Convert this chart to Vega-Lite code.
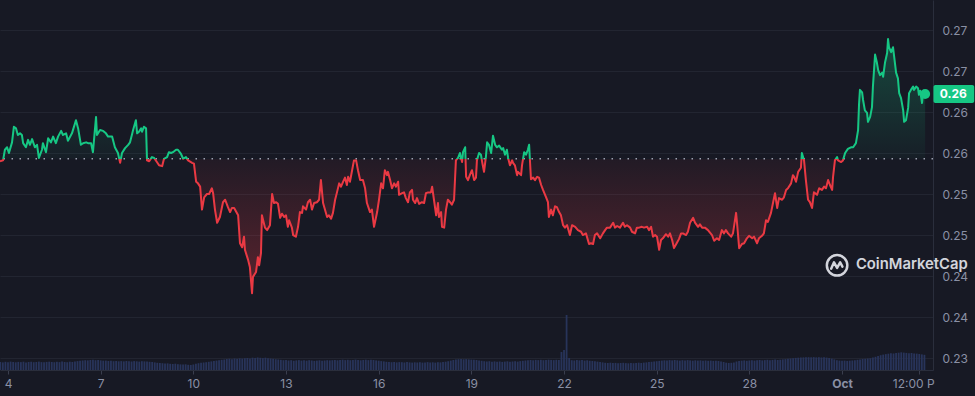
{
"$schema": "https://vega.github.io/schema/vega-lite/v6.json",
"width": 933, "height": 370,
"autosize": {"type": "none"},
"padding": {"left": 0, "top": 0, "right": 42, "bottom": 26},
"background": "#171924",
"config": {
  "view": {"stroke": null},
  "font": "Inter",
  "axis": {"domainColor": "#2a2e3c", "gridColor": "#222531", "tickColor": "#3a3e4e", "labelColor": "#8a90a4", "labelFont": "Inter", "labelFontSize": 12}
},
"datasets": {
"price": [
{"d":-0.26,"p":0.2540},{"d":-0.16,"p":0.2541},{"d":-0.10,"p":0.2554},{"d":-0.03,"p":0.2557},{"d":0.03,"p":0.2550},{"d":0.13,"p":0.2563},{"d":0.19,"p":0.2582},{"d":0.26,"p":0.2580},{"d":0.32,"p":0.2572},{"d":0.39,"p":0.2574},{"d":0.45,"p":0.2572},{"d":0.49,"p":0.2562},{"d":0.58,"p":0.2557},{"d":0.65,"p":0.2566},{"d":0.71,"p":0.2560},{"d":0.78,"p":0.2567},{"d":0.87,"p":0.2557},{"d":0.94,"p":0.2560},{"d":1.00,"p":0.2544},{"d":1.10,"p":0.2554},{"d":1.13,"p":0.2562},{"d":1.23,"p":0.2551},{"d":1.30,"p":0.2568},{"d":1.39,"p":0.2563},{"d":1.46,"p":0.2570},{"d":1.55,"p":0.2562},{"d":1.62,"p":0.2570},{"d":1.72,"p":0.2577},{"d":1.78,"p":0.2572},{"d":1.88,"p":0.2574},{"d":1.94,"p":0.2565},{"d":2.07,"p":0.2574},{"d":2.20,"p":0.2590},{"d":2.27,"p":0.2580},{"d":2.36,"p":0.2560},{"d":2.43,"p":0.2562},{"d":2.53,"p":0.2563},{"d":2.59,"p":0.2562},{"d":2.69,"p":0.2562},{"d":2.75,"p":0.2551},{"d":2.85,"p":0.2594},{"d":2.88,"p":0.2572},{"d":2.98,"p":0.2578},{"d":3.08,"p":0.2577},{"d":3.17,"p":0.2574},{"d":3.24,"p":0.2570},{"d":3.37,"p":0.2570},{"d":3.46,"p":0.2557},{"d":3.56,"p":0.2550},{"d":3.63,"p":0.2538},{"d":3.69,"p":0.2550},{"d":3.79,"p":0.2556},{"d":3.89,"p":0.2560},{"d":3.95,"p":0.2563},{"d":4.01,"p":0.2572},{"d":4.05,"p":0.2578},{"d":4.14,"p":0.2590},{"d":4.18,"p":0.2574},{"d":4.24,"p":0.2576},{"d":4.31,"p":0.2580},{"d":4.34,"p":0.2576},{"d":4.40,"p":0.2582},{"d":4.47,"p":0.2580},{"d":4.50,"p":0.2541},{"d":4.57,"p":0.2540},{"d":4.66,"p":0.2545},{"d":4.73,"p":0.2544},{"d":4.82,"p":0.2539},{"d":4.89,"p":0.2535},{"d":4.99,"p":0.2534},{"d":5.05,"p":0.2543},{"d":5.15,"p":0.2545},{"d":5.21,"p":0.2551},{"d":5.28,"p":0.2550},{"d":5.34,"p":0.2551},{"d":5.44,"p":0.2554},{"d":5.50,"p":0.2554},{"d":5.60,"p":0.2549},{"d":5.67,"p":0.2543},{"d":5.76,"p":0.2545},{"d":5.83,"p":0.2541},{"d":5.96,"p":0.2538},{"d":6.02,"p":0.2537},{"d":6.09,"p":0.2515},{"d":6.15,"p":0.2513},{"d":6.22,"p":0.2509},{"d":6.28,"p":0.2481},{"d":6.35,"p":0.2496},{"d":6.44,"p":0.2500},{"d":6.51,"p":0.2500},{"d":6.60,"p":0.2507},{"d":6.64,"p":0.2501},{"d":6.70,"p":0.2481},{"d":6.77,"p":0.2465},{"d":6.86,"p":0.2472},{"d":6.96,"p":0.2490},{"d":7.03,"p":0.2493},{"d":7.12,"p":0.2484},{"d":7.19,"p":0.2478},{"d":7.25,"p":0.2483},{"d":7.32,"p":0.2483},
{"d":7.45,"p":0.2474},{"d":7.51,"p":0.2440},{"d":7.58,"p":0.2435},{"d":7.64,"p":0.2448},{"d":7.67,"p":0.2432},{"d":7.77,"p":0.2420},{"d":7.83,"p":0.2411},{"d":7.90,"p":0.2379},{"d":7.93,"p":0.2399},{"d":8.03,"p":0.2405},{"d":8.09,"p":0.2423},{"d":8.13,"p":0.2413},{"d":8.19,"p":0.2428},{"d":8.22,"p":0.2474},{"d":8.26,"p":0.2468},{"d":8.32,"p":0.2459},{"d":8.39,"p":0.2456},{"d":8.48,"p":0.2462},{"d":8.55,"p":0.2500},{"d":8.61,"p":0.2489},{"d":8.68,"p":0.2490},{"d":8.74,"p":0.2488},{"d":8.81,"p":0.2471},{"d":8.87,"p":0.2476},{"d":8.94,"p":0.2472},{"d":9.00,"p":0.2474},{"d":9.06,"p":0.2460},{"d":9.10,"p":0.2468},{"d":9.19,"p":0.2459},{"d":9.23,"p":0.2450},{"d":9.32,"p":0.2448},{"d":9.39,"p":0.2460},{"d":9.45,"p":0.2478},{"d":9.52,"p":0.2477},{"d":9.55,"p":0.2485},{"d":9.65,"p":0.2481},{"d":9.71,"p":0.2490},{"d":9.78,"p":0.2493},{"d":9.84,"p":0.2481},{"d":9.91,"p":0.2489},{"d":10.00,"p":0.2490},{"d":10.07,"p":0.2493},{"d":10.13,"p":0.2517},{"d":10.20,"p":0.2489},{"d":10.23,"p":0.2485},{"d":10.33,"p":0.2472},{"d":10.39,"p":0.2474},{"d":10.46,"p":0.2470},{"d":10.52,"p":0.2477},{"d":10.59,"p":0.2493},{"d":10.65,"p":0.2502},{"d":10.72,"p":0.2513},{"d":10.78,"p":0.2509},{"d":10.85,"p":0.2515},{"d":10.91,"p":0.2520},{"d":10.97,"p":0.2511},{"d":11.01,"p":0.2521},{"d":11.07,"p":0.2515},{"d":11.14,"p":0.2529},{"d":11.20,"p":0.2541},{"d":11.27,"p":0.2541},{"d":11.33,"p":0.2529},{"d":11.40,"p":0.2517},{"d":11.49,"p":0.2517},{"d":11.56,"p":0.2507},{"d":11.62,"p":0.2489},{"d":11.72,"p":0.2478},{"d":11.78,"p":0.2481},{"d":11.85,"p":0.2460},{"d":11.95,"p":0.2478},{"d":12.01,"p":0.2493},{"d":12.08,"p":0.2513},{"d":12.14,"p":0.2507},{"d":12.20,"p":0.2529},{"d":12.27,"p":0.2523},{"d":12.30,"p":0.2527},{"d":12.37,"p":0.2517},{"d":12.43,"p":0.2507},{"d":12.50,"p":0.2513},{"d":12.56,"p":0.2509},{"d":12.63,"p":0.2515},{"d":12.66,"p":0.2499},{"d":12.76,"p":0.2501},{"d":12.82,"p":0.2502},{"d":12.88,"p":0.2495},{"d":12.95,"p":0.2490},{"d":13.01,"p":0.2502},{"d":13.08,"p":0.2505},{"d":13.11,"p":0.2493},{"d":13.18,"p":0.2489},{"d":13.24,"p":0.2495},{"d":13.31,"p":0.2488},{"d":13.40,"p":0.2490},{"d":13.47,"p":0.2489},{"d":13.53,"p":0.2501},{"d":13.60,"p":0.2502},{"d":13.69,"p":0.2502},{"d":13.73,"p":0.2509},{"d":13.79,"p":0.2493},{"d":13.86,"p":0.2474},{"d":13.92,"p":0.2489},{"d":13.95,"p":0.2472},{"d":14.02,"p":0.2478},{"d":14.05,"p":0.2460},{"d":14.12,"p":0.2459},{"d":14.18,"p":0.2481},{"d":14.24,"p":0.2493},{"d":14.31,"p":0.2490},{"d":14.37,"p":0.2487},{"d":14.44,"p":0.2493},{"d":14.50,"p":0.2541},{"d":14.57,"p":0.2544},{"d":14.63,"p":0.2550},{"d":14.70,"p":0.2539},{"d":14.73,"p":0.2551},{"d":14.80,"p":0.2557},{"d":14.83,"p":0.2521},{"d":14.89,"p":0.2517},{"d":14.96,"p":0.2524},{"d":15.02,"p":0.2529},{"d":15.09,"p":0.2517},{"d":15.15,"p":0.2520},{"d":15.18,"p":0.2541},{"d":15.25,"p":0.2550},{"d":15.31,"p":0.2548},{"d":15.35,"p":0.2539},{"d":15.41,"p":0.2527},{"d":15.47,"p":0.2545},{"d":15.51,"p":0.2563},{"d":15.57,"p":0.2560},{"d":15.64,"p":0.2550},{"d":15.70,"p":0.2571},{"d":15.77,"p":0.2560},{"d":15.83,"p":0.2557},{"d":15.90,"p":0.2559},{"d":15.99,"p":0.2554},{"d":16.03,"p":0.2556},{"d":16.09,"p":0.2548},{"d":16.15,"p":0.2554},{"d":16.19,"p":0.2544},{"d":16.25,"p":0.2535},{"d":16.32,"p":0.2541},{"d":16.35,"p":0.2538},{"d":16.41,"p":0.2535},{"d":16.48,"p":0.2523},{"d":16.51,"p":0.2527},{"d":16.61,"p":0.2523},{"d":16.64,"p":0.2535},{"d":16.71,"p":0.2551},{"d":16.77,"p":0.2548},{"d":16.83,"p":0.2554},{"d":16.87,"p":0.2560},{"d":16.93,"p":0.2518},{"d":17.00,"p":0.2520},{"d":17.06,"p":0.2517},{"d":17.13,"p":0.2521},{"d":17.19,"p":0.2520},{"d":17.26,"p":0.2511},{"d":17.32,"p":0.2505},{"d":17.42,"p":0.2496},{"d":17.48,"p":0.2490},{"d":17.51,"p":0.2472},{"d":17.58,"p":0.2481},{"d":17.64,"p":0.2474},{"d":17.71,"p":0.2485},{"d":17.77,"p":0.2484},{"d":17.84,"p":0.2478},{"d":17.90,"p":0.2474},{"d":17.97,"p":0.2462},{"d":18.03,"p":0.2459},{"d":18.10,"p":0.2462},{"d":18.19,"p":0.2450},{"d":18.26,"p":0.2462},{"d":18.36,"p":0.2460},{"d":18.45,"p":0.2456},{"d":18.55,"p":0.2454},{"d":18.61,"p":0.2450},{"d":18.71,"p":0.2452},{"d":18.81,"p":0.2439},{"d":18.87,"p":0.2440},{"d":18.94,"p":0.2439},{"d":19.00,"p":0.2450},{"d":19.07,"p":0.2452},{"d":19.17,"p":0.2446},{"d":19.26,"p":0.2452},{"d":19.33,"p":0.2456},{"d":19.39,"p":0.2459},{"d":19.49,"p":0.2459},{"d":19.59,"p":0.2465},{"d":19.65,"p":0.2459},{"d":19.72,"p":0.2461},{"d":19.81,"p":0.2459},{"d":19.91,"p":0.2465},{"d":19.97,"p":0.2460},{"d":20.04,"p":0.2462},{"d":20.14,"p":0.2459},{"d":20.20,"p":0.2454},{"d":20.30,"p":0.2452},{"d":20.36,"p":0.2459},{"d":20.43,"p":0.2459},{"d":20.52,"p":0.2460},{"d":20.59,"p":0.2459},{"d":20.69,"p":0.2460},{"d":20.75,"p":0.2456},{"d":20.82,"p":0.2460},{"d":20.88,"p":0.2448},{"d":20.95,"p":0.2450},{"d":21.01,"p":0.2448},{"d":21.08,"p":0.2432},{"d":21.14,"p":0.2444},{"d":21.20,"p":0.2446},{"d":21.30,"p":0.2451},{"d":21.37,"p":0.2448},{"d":21.43,"p":0.2452},{"d":21.50,"p":0.2444},{"d":21.56,"p":0.2434},{"d":21.66,"p":0.2441},{"d":21.72,"p":0.2445},{"d":21.79,"p":0.2452},{"d":21.85,"p":0.2452},{"d":21.95,"p":0.2450},{"d":22.01,"p":0.2454},{"d":22.08,"p":0.2465},{"d":22.18,"p":0.2471},{"d":22.24,"p":0.2465},{"d":22.34,"p":0.2460},{"d":22.40,"p":0.2463},{"d":22.47,"p":0.2459},{"d":22.56,"p":0.2459},
{"d":22.66,"p":0.2456},{"d":22.79,"p":0.2450},{"d":22.86,"p":0.2443},{"d":22.95,"p":0.2446},{"d":23.02,"p":0.2444},{"d":23.11,"p":0.2456},{"d":23.18,"p":0.2452},{"d":23.24,"p":0.2456},{"d":23.31,"p":0.2452},{"d":23.41,"p":0.2448},{"d":23.47,"p":0.2452},{"d":23.57,"p":0.2477},{"d":23.60,"p":0.2465},{"d":23.67,"p":0.2434},{"d":23.76,"p":0.2439},{"d":23.83,"p":0.2440},{"d":23.92,"p":0.2446},{"d":23.99,"p":0.2449},{"d":24.09,"p":0.2446},{"d":24.15,"p":0.2448},{"d":24.25,"p":0.2440},{"d":24.31,"p":0.2446},{"d":24.41,"p":0.2449},{"d":24.47,"p":0.2452},{"d":24.54,"p":0.2468},{"d":24.60,"p":0.2466},{"d":24.70,"p":0.2477},{"d":24.77,"p":0.2490},{"d":24.83,"p":0.2501},{"d":24.90,"p":0.2483},{"d":24.96,"p":0.2495},{"d":25.06,"p":0.2493},{"d":25.12,"p":0.2496},{"d":25.19,"p":0.2505},{"d":25.25,"p":0.2507},{"d":25.35,"p":0.2513},{"d":25.41,"p":0.2523},{"d":25.45,"p":0.2521},{"d":25.51,"p":0.2515},{"d":25.58,"p":0.2527},{"d":25.67,"p":0.2532},{"d":25.70,"p":0.2550},{"d":25.77,"p":0.2541},{"d":25.83,"p":0.2517},{"d":25.90,"p":0.2493},{"d":25.96,"p":0.2490},{"d":26.03,"p":0.2483},{"d":26.09,"p":0.2502},{"d":26.19,"p":0.2499},{"d":26.26,"p":0.2507},{"d":26.35,"p":0.2505},{"d":26.42,"p":0.2509},{"d":26.48,"p":0.2507},{"d":26.55,"p":0.2517},{"d":26.61,"p":0.2511},{"d":26.68,"p":0.2505},{"d":26.71,"p":0.2521},{"d":26.77,"p":0.2541},{"d":26.84,"p":0.2545},{"d":26.87,"p":0.2541},{"d":26.97,"p":0.2539},{"d":27.03,"p":0.2541},{"d":27.10,"p":0.2550},{"d":27.19,"p":0.2555},{"d":27.29,"p":0.2557},{"d":27.36,"p":0.2557},{"d":27.45,"p":0.2562},{"d":27.52,"p":0.2578},{"d":27.55,"p":0.2609},{"d":27.58,"p":0.2627},{"d":27.65,"p":0.2624},{"d":27.68,"p":0.2615},{"d":27.74,"p":0.2602},{"d":27.81,"p":0.2599},{"d":27.84,"p":0.2588},{"d":27.91,"p":0.2594},{"d":27.97,"p":0.2606},{"d":28.00,"p":0.2631},{"d":28.07,"p":0.2670},{"d":28.13,"p":0.2660},{"d":28.17,"p":0.2651},{"d":28.23,"p":0.2645},{"d":28.30,"p":0.2648},{"d":28.33,"p":0.2643},{"d":28.39,"p":0.2660},{"d":28.46,"p":0.2672},{"d":28.49,"p":0.2689},{"d":28.52,"p":0.2679},{"d":28.59,"p":0.2673},{"d":28.65,"p":0.2679},{"d":28.68,"p":0.2670},{"d":28.75,"p":0.2648},{"d":28.81,"p":0.2641},{"d":28.85,"p":0.2623},{"d":28.91,"p":0.2617},{"d":28.98,"p":0.2602},{"d":29.01,"p":0.2588},{"d":29.07,"p":0.2590},{"d":29.14,"p":0.2605},{"d":29.17,"p":0.2623},{"d":29.23,"p":0.2627},{"d":29.30,"p":0.2631},{"d":29.33,"p":0.2627},{"d":29.40,"p":0.2631},{"d":29.46,"p":0.2629},{"d":29.49,"p":0.2621},{"d":29.53,"p":0.2626},{"d":29.59,"p":0.2611},{"d":29.62,"p":0.2622},{"d":29.69,"p":0.2622}
],
"vol": [
{"d":-0.25,"v":8},{"d":-0.167,"v":7.6},{"d":-0.083,"v":8.2},
{"d":0,"v":7.8},{"d":0.083,"v":8.4},{"d":0.167,"v":8},{"d":0.25,"v":7.7},{"d":0.333,"v":8.1},{"d":0.417,"v":7.9},{"d":0.5,"v":8.3},{"d":0.583,"v":7.6},{"d":0.667,"v":8},{"d":0.75,"v":8.2},{"d":0.833,"v":7.8},{"d":0.917,"v":8},
{"d":1,"v":8.4},{"d":1.083,"v":7.9},{"d":1.167,"v":7.7},{"d":1.25,"v":8.1},{"d":1.333,"v":8.3},{"d":1.417,"v":8},{"d":1.5,"v":7.8},{"d":1.583,"v":8.2},{"d":1.667,"v":7.9},{"d":1.75,"v":8.5},{"d":1.833,"v":8.1},{"d":1.917,"v":7.8},
{"d":2,"v":8.3},{"d":2.083,"v":8},{"d":2.167,"v":8.6},{"d":2.25,"v":8.9},{"d":2.333,"v":9.2},{"d":2.417,"v":9.5},{"d":2.5,"v":9.8},{"d":2.583,"v":9.6},{"d":2.667,"v":10},{"d":2.75,"v":10.2},{"d":2.833,"v":9.8},{"d":2.917,"v":10},
{"d":3,"v":9.6},{"d":3.083,"v":9.3},{"d":3.167,"v":9.4},{"d":3.25,"v":9},{"d":3.333,"v":9.2},{"d":3.417,"v":8.8},{"d":3.5,"v":9},{"d":3.583,"v":8.7},{"d":3.667,"v":8.9},{"d":3.75,"v":8.6},{"d":3.833,"v":9},{"d":3.917,"v":8.8},
{"d":4,"v":8.5},{"d":4.083,"v":8.9},{"d":4.167,"v":8.7},{"d":4.25,"v":8.4},{"d":4.333,"v":8.8},{"d":4.417,"v":8.6},{"d":4.5,"v":8.5},{"d":4.583,"v":8.2},{"d":4.667,"v":8},{"d":4.75,"v":7.6},{"d":4.833,"v":7.2},{"d":4.917,"v":7},
{"d":5,"v":6.8},{"d":5.083,"v":6.5},{"d":5.167,"v":6.6},{"d":5.25,"v":6.2},{"d":5.333,"v":6},{"d":5.417,"v":6.3},{"d":5.5,"v":5.8},{"d":5.583,"v":5.6},{"d":5.667,"v":5.4},{"d":5.75,"v":5.7},{"d":5.833,"v":5.2},{"d":5.917,"v":5},
{"d":6,"v":5.5},{"d":6.083,"v":6.2},{"d":6.167,"v":6.8},{"d":6.25,"v":7.3},{"d":6.333,"v":7.5},{"d":6.417,"v":7.8},{"d":6.5,"v":8.2},{"d":6.583,"v":8.6},{"d":6.667,"v":9},{"d":6.75,"v":9.4},{"d":6.833,"v":9.8},{"d":6.917,"v":10.2},
{"d":7,"v":10.5},{"d":7.083,"v":11},{"d":7.167,"v":11.3},{"d":7.25,"v":10.8},{"d":7.333,"v":11.5},{"d":7.417,"v":11.2},{"d":7.5,"v":11.7},{"d":7.583,"v":11.4},{"d":7.667,"v":11.8},{"d":7.75,"v":12},{"d":7.833,"v":11.6},{"d":7.917,"v":12.3},
{"d":8,"v":12.1},{"d":8.083,"v":12.5},{"d":8.167,"v":12.2},{"d":8.25,"v":11.9},{"d":8.333,"v":12.3},{"d":8.417,"v":11.8},{"d":8.5,"v":11.5},{"d":8.583,"v":11.2},{"d":8.667,"v":10.8},{"d":8.75,"v":10.5},{"d":8.833,"v":10.2},{"d":8.917,"v":9.8},
{"d":9,"v":10},{"d":9.083,"v":9.5},{"d":9.167,"v":9.8},{"d":9.25,"v":9.2},{"d":9.333,"v":9.6},{"d":9.417,"v":9.9},{"d":9.5,"v":9.4},{"d":9.583,"v":9.7},{"d":9.667,"v":9.3},{"d":9.75,"v":9.8},{"d":9.833,"v":9.5},{"d":9.917,"v":9.1},
{"d":10,"v":9.4},{"d":10.083,"v":9.7},{"d":10.167,"v":9.2},{"d":10.25,"v":9.5},{"d":10.333,"v":9.8},{"d":10.417,"v":9.6},{"d":10.5,"v":9.8},{"d":10.583,"v":10.1},{"d":10.667,"v":9.7},{"d":10.75,"v":10},{"d":10.833,"v":10.3},{"d":10.917,"v":9.9},
{"d":11,"v":10.2},{"d":11.083,"v":9.8},{"d":11.167,"v":10},{"d":11.25,"v":10.4},{"d":11.333,"v":10.1},{"d":11.417,"v":9.7},{"d":11.5,"v":10},{"d":11.583,"v":10.3},{"d":11.667,"v":9.9},{"d":11.75,"v":10.2},{"d":11.833,"v":10},{"d":11.917,"v":9.6},
{"d":12,"v":9.3},{"d":12.083,"v":8.9},{"d":12.167,"v":8.6},{"d":12.25,"v":8.2},{"d":12.333,"v":8},{"d":12.417,"v":7.8},{"d":12.5,"v":8},{"d":12.583,"v":7.6},{"d":12.667,"v":7.9},{"d":12.75,"v":7.8},{"d":12.833,"v":7.5},{"d":12.917,"v":7.9},
{"d":13,"v":7.6},{"d":13.083,"v":7.4},{"d":13.167,"v":7.7},{"d":13.25,"v":7.5},{"d":13.333,"v":7.8},{"d":13.417,"v":7.4},{"d":13.5,"v":7.6},{"d":13.583,"v":7.9},{"d":13.667,"v":7.5},{"d":13.75,"v":7.7},{"d":13.833,"v":7.4},{"d":13.917,"v":7.8},
{"d":14,"v":7.6},{"d":14.083,"v":8},{"d":14.167,"v":8.3},{"d":14.25,"v":8.8},{"d":14.333,"v":9.4},{"d":14.417,"v":10},{"d":14.5,"v":10.5},{"d":14.583,"v":10.8},{"d":14.667,"v":11},{"d":14.75,"v":10.7},{"d":14.833,"v":10.9},{"d":14.917,"v":10.6},
{"d":15,"v":10.4},{"d":15.083,"v":10.2},{"d":15.167,"v":10},{"d":15.25,"v":9.6},{"d":15.333,"v":9.2},{"d":15.417,"v":8.8},{"d":15.5,"v":8.5},{"d":15.583,"v":8.8},{"d":15.667,"v":8.3},{"d":15.75,"v":8.6},{"d":15.833,"v":8.2},{"d":15.917,"v":8.5},
{"d":16,"v":8.1},{"d":16.083,"v":8.4},{"d":16.167,"v":8.7},{"d":16.25,"v":8.2},{"d":16.333,"v":8.5},{"d":16.417,"v":8.8},{"d":16.5,"v":8.4},{"d":16.583,"v":8.9},{"d":16.667,"v":9.2},{"d":16.75,"v":9.5},{"d":16.833,"v":9.8},{"d":16.917,"v":10},
{"d":17,"v":9.7},{"d":17.083,"v":10.1},{"d":17.167,"v":9.9},{"d":17.25,"v":10.2},{"d":17.333,"v":9.8},{"d":17.417,"v":10},{"d":17.5,"v":10.3},{"d":17.583,"v":10.1},{"d":17.667,"v":9.9},{"d":17.75,"v":10.2},{"d":17.833,"v":10},{"d":17.917,"v":18},
{"d":18,"v":20},{"d":18.083,"v":55},{"d":18.167,"v":12},{"d":18.25,"v":9.8},{"d":18.333,"v":9.5},{"d":18.417,"v":10},{"d":18.5,"v":9.6},{"d":18.583,"v":9.9},{"d":18.667,"v":9.4},{"d":18.75,"v":9.7},{"d":18.833,"v":9.2},{"d":18.917,"v":9},
{"d":19,"v":8.7},{"d":19.083,"v":8.4},{"d":19.167,"v":8},{"d":19.25,"v":7.6},{"d":19.333,"v":7.2},{"d":19.417,"v":7},{"d":19.5,"v":7.3},{"d":19.583,"v":6.9},{"d":19.667,"v":7.1},{"d":19.75,"v":6.8},{"d":19.833,"v":7},{"d":19.917,"v":7.2},
{"d":20,"v":6.9},{"d":20.083,"v":6.7},{"d":20.167,"v":7},{"d":20.25,"v":6.8},{"d":20.333,"v":7.1},{"d":20.417,"v":7.3},{"d":20.5,"v":7},{"d":20.583,"v":7.4},{"d":20.667,"v":7.6},{"d":20.75,"v":7.9},{"d":20.833,"v":8.2},{"d":20.917,"v":8.5},
{"d":21,"v":8.8},{"d":21.083,"v":9.1},{"d":21.167,"v":9.4},{"d":21.25,"v":9.7},{"d":21.333,"v":9.5},{"d":21.417,"v":9.9},{"d":21.5,"v":9.6},{"d":21.583,"v":10},{"d":21.667,"v":9.7},{"d":21.75,"v":9.4},{"d":21.833,"v":9.8},{"d":21.917,"v":9.5},
{"d":22,"v":9.9},{"d":22.083,"v":9.6},{"d":22.167,"v":9.3},{"d":22.25,"v":9.7},{"d":22.333,"v":9.4},{"d":22.417,"v":9.6},{"d":22.5,"v":9.3},{"d":22.583,"v":9.5},{"d":22.667,"v":9.2},{"d":22.75,"v":9.4},{"d":22.833,"v":9.1},{"d":22.917,"v":9.3},
{"d":23,"v":9},{"d":23.083,"v":8.5},{"d":23.167,"v":8},{"d":23.25,"v":7.3},{"d":23.333,"v":7},{"d":23.417,"v":7.2},{"d":23.5,"v":7.6},{"d":23.583,"v":8.5},{"d":23.667,"v":9},{"d":23.75,"v":9.3},{"d":23.833,"v":9.6},{"d":23.917,"v":9.2},
{"d":24,"v":9.5},{"d":24.083,"v":9.8},{"d":24.167,"v":9.4},{"d":24.25,"v":9.7},{"d":24.333,"v":10},{"d":24.417,"v":9.6},{"d":24.5,"v":9.9},{"d":24.583,"v":10.2},{"d":24.667,"v":9.8},{"d":24.75,"v":10.1},{"d":24.833,"v":10.4},{"d":24.917,"v":10},
{"d":25,"v":10.3},{"d":25.083,"v":10.6},{"d":25.167,"v":10.9},{"d":25.25,"v":11.2},{"d":25.333,"v":11.5},{"d":25.417,"v":11.8},{"d":25.5,"v":12.1},{"d":25.583,"v":12.3},{"d":25.667,"v":12.5},{"d":25.75,"v":12.6},{"d":25.833,"v":12.7},{"d":25.917,"v":12.8},
{"d":26,"v":12.7},{"d":26.083,"v":12.9},{"d":26.167,"v":12.6},{"d":26.25,"v":12.8},{"d":26.333,"v":12.5},{"d":26.417,"v":12.7},{"d":26.5,"v":12.4},{"d":26.583,"v":12},{"d":26.667,"v":11.4},{"d":26.75,"v":10.6},{"d":26.833,"v":9.8},{"d":26.917,"v":9.4},
{"d":27,"v":9.2},{"d":27.083,"v":9.4},{"d":27.167,"v":9.1},{"d":27.25,"v":9.3},{"d":27.333,"v":9.5},{"d":27.417,"v":9.8},{"d":27.5,"v":10.2},{"d":27.583,"v":10.6},{"d":27.667,"v":11},{"d":27.75,"v":11.2},{"d":27.833,"v":11.5},{"d":27.917,"v":11.8},
{"d":28,"v":12.4},{"d":28.083,"v":13.2},{"d":28.167,"v":14},{"d":28.25,"v":14.8},{"d":28.333,"v":15.4},{"d":28.417,"v":15.9},{"d":28.5,"v":16.3},{"d":28.583,"v":16.7},{"d":28.667,"v":16.5},{"d":28.75,"v":17},{"d":28.833,"v":17.3},{"d":28.917,"v":17.7},
{"d":29,"v":17.4},{"d":29.083,"v":17.1},{"d":29.167,"v":16.8},{"d":29.25,"v":17},{"d":29.333,"v":16.6},{"d":29.417,"v":16.4},{"d":29.5,"v":16},{"d":29.583,"v":15.6},{"d":29.667,"v":15.2}
]
},
"layer": [
  {
    "data": {"name": "vol"},
    "mark": {"type": "bar", "width": 1.8, "color": "#28345a"},
    "encoding": {
      "x": {"field": "d", "type": "quantitative", "title": null,
        "scale": {"domain": [-0.259, 29.945], "nice": false, "zero": false, "padding": 0},
        "axis": {"values": [0, 3, 6, 9, 12, 15, 18, 21, 24, 27, 29.5],
          "labelExpr": "datum.value == 27 ? 'Oct' : datum.value == 29.5 ? '12:00 P' : format(datum.value + 4, 'd')",
          "labelFontWeight": {"condition": {"test": "datum.value == 27", "value": "bold"}, "value": "normal"},
          "labelOffset": {"condition": {"test": "datum.value == 29.5", "value": -6}, "value": 0},
          "grid": false, "tickSize": 4, "labelPadding": 4, "labelFlush": false, "labelOverlap": false, "domain": true}},
      "y": {"field": "v", "type": "quantitative", "scale": {"domain": [0, 370], "nice": false}, "axis": null}
    }
  },
  {
    "layer": [
      {
        "data": {"name": "price"},
        "mark": {"type": "area", "interpolate": "linear",
          "fill": {"gradient": "linear", "x1": 0, "y1": 0, "x2": 0, "y2": 1,
            "stops": [
              {"offset": 0, "color": "rgba(22,199,132,0.28)"},
              {"offset": 0.471, "color": "rgba(22,199,132,0.03)"},
              {"offset": 0.471, "color": "rgba(234,57,67,0.05)"},
              {"offset": 1, "color": "rgba(234,57,67,0.32)"}
            ]}},
        "encoding": {
          "x": {"field": "d", "type": "quantitative", "title": null},
          "y": {"field": "p", "type": "quantitative", "title": null,
            "scale": {"domain": [0.22854, 0.27366], "nice": false, "zero": false},
            "axis": {"orient": "right", "values": [0.23, 0.235, 0.24, 0.245, 0.25, 0.255, 0.26, 0.265, 0.27],
              "labelExpr": "format(round(datum.value * 100 + 0.001) / 100, '.2f')",
              "grid": true, "ticks": false, "labelPadding": 9, "domain": true, "labelFlush": false, "labelOverlap": false}},
          "y2": {"datum": 0.2543}
        }
      },
      {
        "data": {"values": [{}]},
        "mark": {"type": "rule", "stroke": "#b4b9c8", "strokeDash": [1.5, 6.5], "strokeWidth": 1.4, "opacity": 0.85},
        "encoding": {"y": {"datum": 0.2543}}
      },
      {
        "data": {"name": "price"},
        "mark": {"type": "line", "interpolate": "linear", "strokeWidth": 2, "strokeJoin": "round",
          "stroke": {"gradient": "linear", "x1": 0, "y1": 0, "x2": 0, "y2": 1,
            "stops": [
              {"offset": 0, "color": "#16c784"},
              {"offset": 0.471, "color": "#16c784"},
              {"offset": 0.471, "color": "#ea3943"},
              {"offset": 1, "color": "#ea3943"}
            ]}},
        "encoding": {
          "x": {"field": "d", "type": "quantitative", "title": null},
          "y": {"field": "p", "type": "quantitative", "title": null}
        }
      },
      {
        "data": {"values": [{"d": 29.69, "p": 0.2622, "label": "0.26"}]},
        "layer": [
          {
            "mark": {"type": "point", "filled": true, "fill": "#16c784", "size": 100, "opacity": 1},
            "encoding": {
              "x": {"field": "d", "type": "quantitative", "title": null},
              "y": {"field": "p", "type": "quantitative", "title": null}
            }
          },
          {
            "mark": {"type": "rect", "color": "#16c784", "cornerRadius": 2},
            "encoding": {
              "x": {"datum": 29.96}, "x2": {"datum": 31.28},
              "y": {"datum": 0.26329}, "y2": {"datum": 0.2611}
            }
          },
          {
            "mark": {"type": "text", "font": "Inter", "fontSize": 12, "fontWeight": "bold", "color": "#ffffff", "align": "center", "baseline": "middle"},
            "encoding": {
              "x": {"datum": 30.6},
              "y": {"field": "p", "type": "quantitative", "title": null},
              "text": {"field": "label"}
            }
          }
        ]
      },
      {
        "data": {"values": [{"brand": "CoinMarketCap"}]},
        "layer": [
          {
            "mark": {"type": "point", "shape": "circle", "filled": false, "stroke": "#e3e5ec", "strokeWidth": 2.5, "size": 420, "opacity": 0.92},
            "encoding": {"x": {"datum": 26.84}, "y": {"datum": 0.2413}}
          },
          {
            "mark": {"type": "point", "shape": "M-0.58,0.32L-0.3,-0.3L0,0.25L0.3,-0.3L0.52,0.12", "filled": false, "stroke": "#e3e5ec", "strokeWidth": 2.5, "strokeJoin": "round", "strokeCap": "round", "size": 420, "opacity": 0.92},
            "encoding": {"x": {"datum": 26.84}, "y": {"datum": 0.2413}}
          },
          {
            "mark": {"type": "text", "font": "Inter", "fontSize": 14.8, "fontWeight": 600, "color": "#e3e5ec", "opacity": 0.92, "align": "left", "baseline": "middle"},
            "encoding": {"x": {"datum": 27.45}, "y": {"datum": 0.2413}, "text": {"field": "brand"}}
          }
        ]
      }
    ]
  }
],
"resolve": {"scale": {"y": "independent"}}
}
